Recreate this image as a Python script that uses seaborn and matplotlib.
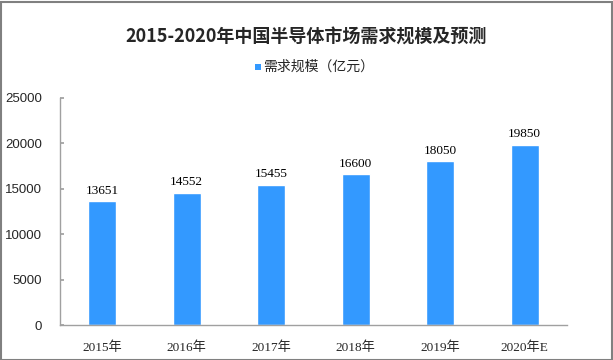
import matplotlib
matplotlib.use("Agg")
import matplotlib.pyplot as plt
import seaborn as sns
import pandas as pd
from matplotlib.patches import Rectangle

categories = ["2015年", "2016年", "2017年", "2018年", "2019年", "2020年E"]
values = [13651, 14552, 15455, 16600, 18050, 19850]
series_name = "需求规模（亿元）"
title = "2015-2020年中国半导体市场需求规模及预测"
yticks = [0, 5000, 10000, 15000, 20000, 25000]

sns.set_theme(style="white")
plt.rcParams['font.family'] = ['Liberation Serif', 'Noto Sans CJK SC', 'DejaVu Sans']

df = pd.DataFrame({"cat": categories, "val": values})
fig = plt.figure(figsize=(6.13, 3.6), dpi=100)
ax = fig.add_axes([60/613, 35/360, 507/613, 227/360])
color = "#3399FF"
sns.barplot(data=df, x="cat", y="val", color=color, width=0.33, ax=ax, saturation=1)

for i, v in enumerate(values):
    ax.text(i, v + 500, str(v), ha="center", va="bottom", fontsize=9.5, color="black")

ax.set_ylim(0, 25000)
ax.set_yticks(yticks)
ax.set_yticklabels([str(t) for t in yticks], fontsize=9.5, family=['Liberation Sans'])
ax.set_xlim(-0.5, 5.5)
for lab in ax.get_xticklabels():
    lab.set_fontsize(9.5)
ax.set_xlabel("")
ax.set_ylabel("")
for s in ["top", "right"]:
    ax.spines[s].set_visible(False)
for s in ["left", "bottom"]:
    ax.spines[s].set_color("#A0A0A0")
    ax.spines[s].set_linewidth(1)
ax.tick_params(axis="y", left=True, direction="in", length=3, color="#A0A0A0", pad=13)
ax.tick_params(axis="x", bottom=False, pad=6)

fig.text(0.5, 1 - 37/360, title, ha="center", va="center", fontsize=13, fontweight="bold",
         family=['Noto Sans CJK SC'])
fig.patches.append(Rectangle((255/613, 1 - 70/360), 6/613, 6/360, transform=fig.transFigure,
                             facecolor=color, edgecolor="none"))
fig.text(263/613, 1 - 67/360, series_name, ha="left", va="center", fontsize=10,
         family=['Noto Sans CJK SC'])
fig.patches.append(Rectangle((0.5/613, 0.5/360), 611/613, 358/360, transform=fig.transFigure,
                             facecolor="none", edgecolor="#808080", linewidth=1.5))

fig.savefig("out.png", dpi=100)
